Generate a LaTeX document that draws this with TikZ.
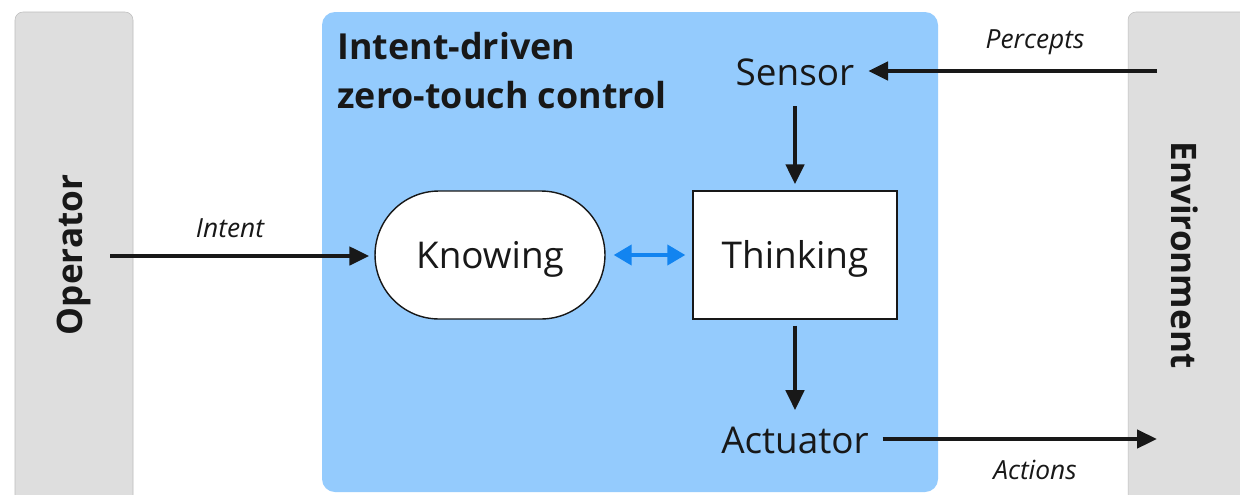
\documentclass[tikz,border=0pt]{standalone}
\usepackage{fontspec}
\setmainfont{Open Sans}
\usetikzlibrary{arrows.meta}
\definecolor{bargray}{RGB}{222,222,222}
\definecolor{panelblue}{RGB}{148,203,253}
\definecolor{linkblue}{RGB}{18,132,240}
\definecolor{inkdark}{RGB}{24,24,24}
\tikzset{
  bar/.style={fill=bargray, draw=bargray!85!black, line width=0.3pt, rounded corners=0.16cm},
  panel/.style={fill=panelblue, draw=none, rounded corners=0.26cm},
  blockbox/.style={draw=inkdark, line width=0.8pt, fill=white, minimum height=2.56cm,
    font=\fontsize{21}{25}\selectfont, text=inkdark, text height=18pt, text depth=2.4pt},
  plainlabel/.style={font=\fontsize{21}{25}\selectfont, text=inkdark, inner sep=2pt},
  sidelabel/.style={font=\bfseries\fontsize{20}{24}\selectfont, text=inkdark},
  flowlabel/.style={font=\itshape\fontsize{15}{18}\selectfont, text=inkdark},
  flow/.style={draw=inkdark, line width=0.09cm, -{Triangle[length=0.4cm,width=0.36cm]}},
  link/.style={draw=linkblue, line width=0.08cm, {Triangle[length=0.36cm,width=0.4cm]}-{Triangle[length=0.36cm,width=0.4cm]}}
}
\begin{document}
\begin{tikzpicture}[x=0.02cm, y=-0.02cm]
  \useasboundingbox (0,0) rectangle (1240,494);
  \clip (0,0) rectangle (1240,494);

  % side bars and the control panel
  \fill[white] (0,0) rectangle (1240,494);
  \path[bar] (15,12) rectangle (133,520);
  \path[bar] (1128,12) rectangle (1260,520);
  \path[panel] (322,12) rectangle (938,492);

  \node[sidelabel, rotate=90] (operator) at (74,255) {Operator};
  \node[sidelabel, rotate=-90] (environment) at (1185,255) {Environment};

  \node[anchor=north west, align=left, inner sep=0pt,
        font=\bfseries\fontsize{20.4}{28}\selectfont, text=inkdark]
        (title) at (337,32) {Intent-driven\\zero-touch control};

  % blocks
  \node[blockbox, minimum width=4.6cm, rounded corners=1.28cm] (knowing) at (490,255) {Knowing};
  \node[blockbox, minimum width=4.08cm] (thinking) at (795,255) {Thinking};
  \node[plainlabel] (sensor) at (795,72) {Sensor};
  \node[plainlabel] (actuator) at (795,440) {Actuator};

  % free ends on the side bars
  \coordinate (opout) at (110,256);
  \coordinate (envout) at (1157,71);
  \coordinate (envin) at (1157,439);

  % connectors
  \draw[flow] (opout) -- ([xshift=-0.1cm]knowing.west |- opout);
  \draw[flow] (envout) -- ([xshift=0.2cm]sensor.east |- envout);
  \draw[flow] ([yshift=-0.34cm]sensor.south) -- ([yshift=0.12cm]thinking.north);
  \draw[flow] ([yshift=-0.12cm]thinking.south) -- ([yshift=0.25cm]actuator.north);
  \draw[flow] ([xshift=0.2cm]actuator.east |- envin) -- (envin);
  \draw[link] ([xshift=0.16cm]knowing.east) -- ([xshift=-0.14cm]thinking.west);

  % connector labels
  \node[flowlabel] (intentlbl) at (230,228) {Intent};
  \node[flowlabel] (perceptslbl) at (1035,42) {Percepts};
  \node[flowlabel] (actionslbl) at (1035,470) {Actions};
\end{tikzpicture}
\end{document}
